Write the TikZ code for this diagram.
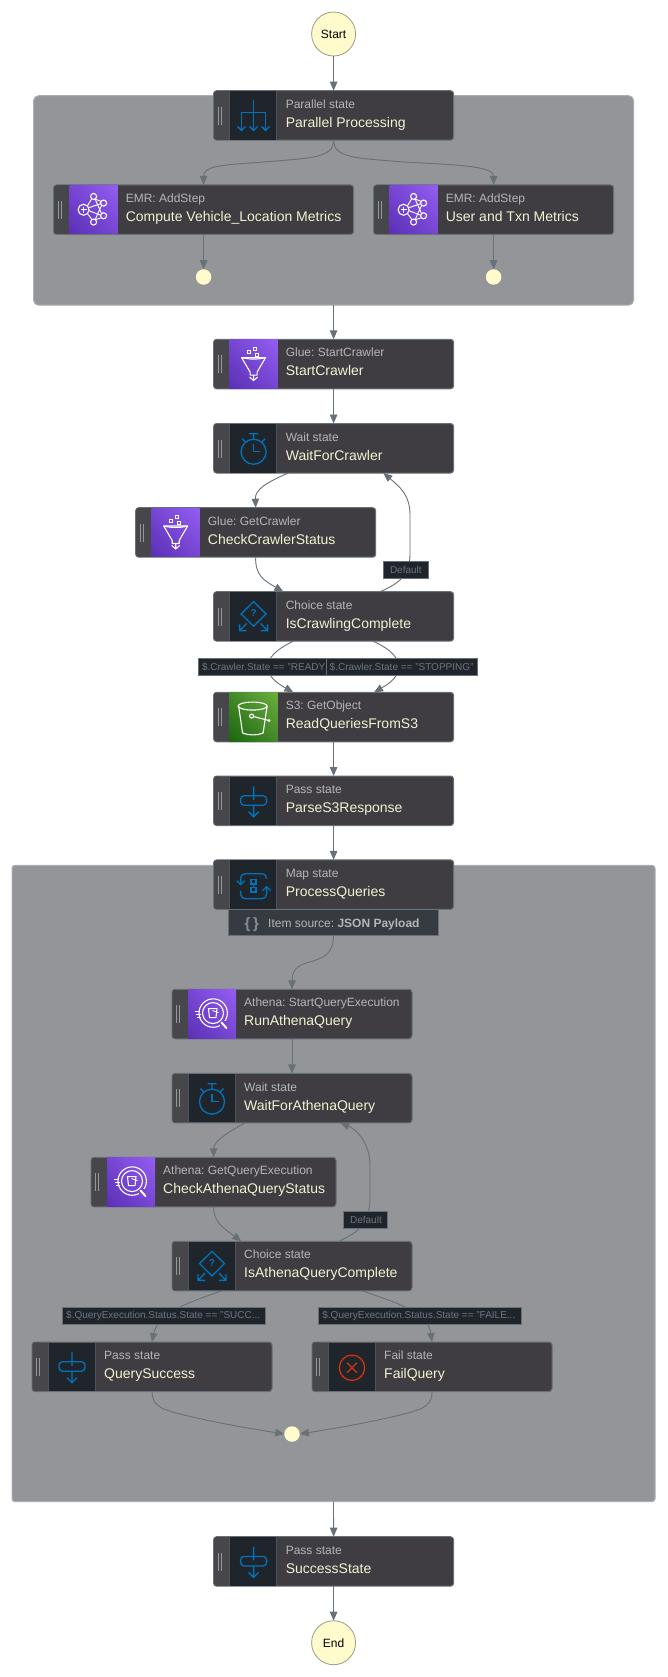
\documentclass[tikz,border=0pt]{standalone}
\usepackage{fontspec}
\setmainfont{Liberation Sans}
\frenchspacing
\usetikzlibrary{arrows.meta,calc,shadings}
\definecolor{edgec}{HTML}{687078}
\definecolor{bodyc}{HTML}{3F3D42}
\definecolor{gripc}{HTML}{47464B}
\definecolor{gripl}{HTML}{96989B}
\definecolor{darkc}{HTML}{20252C}
\definecolor{sepc}{HTML}{4A545C}
\definecolor{blueic}{HTML}{0073BB}
\definecolor{redic}{HTML}{D13212}
\definecolor{groupc}{HTML}{939598}
\definecolor{groupb}{HTML}{ABAFB2}
\definecolor{creamc}{HTML}{F4F2D0}
\definecolor{labc}{HTML}{B5B6B9}
\definecolor{circc}{HTML}{FFFBCD}
\definecolor{circb}{HTML}{9A9C86}
\definecolor{taglab}{HTML}{6E757C}
\definecolor{purl}{HTML}{5A30B5}
\definecolor{purm}{HTML}{7746D3}
\definecolor{purh}{HTML}{945DF2}
\definecolor{grnl}{HTML}{1B660F}
\definecolor{grnm}{HTML}{43892A}
\definecolor{grnh}{HTML}{6CAE3E}
\tikzset{
 stbody/.style={rectangle,draw=edgec,fill=bodyc,line width=1pt,rounded corners=3pt,inner sep=0pt,outer sep=0pt,minimum height=49.5pt,anchor=north west},
 groupbox/.style={rectangle,draw=groupb,fill=groupc,line width=1pt,rounded corners=5pt,inner sep=0pt,outer sep=0pt,anchor=north west},
 conn/.style={draw=edgec,line width=0.9pt,-{Triangle[length=9pt,width=7.5pt]}},
 bigcirc/.style={circle,draw=circb,fill=circc,line width=0.8pt,minimum size=44pt,inner sep=0pt,outer sep=0pt,font=\fontsize{12}{14}\selectfont,text=black},
 smallcirc/.style={circle,fill=circc,minimum size=15.5pt,inner sep=0pt,outer sep=0pt},
 tagbox/.style={rectangle,draw=edgec,fill=darkc,line width=1pt,inner sep=0pt,outer sep=0pt,minimum height=17pt,anchor=north west},
 tagtext/.style={anchor=west,inner sep=0pt,text=taglab,font=\fontsize{10}{12}\selectfont},
 labtext/.style={anchor=base west,inner sep=0pt,text=labc,font=\fontsize{12}{14}\selectfont},
 tittext/.style={anchor=base west,inner sep=0pt,text=creamc,font=\fontsize{14}{16}\selectfont},
 ic/.style={draw=blueic,line width=1.3pt},
 iw/.style={draw=white,line width=1.1pt},
}
% icons, drawn round the centre of the icon panel
\newcommand{\icpar}{\draw[ic] (0,-15)--(0,15) (-12,15)--(-12,-3)--(12,-3)--(12,15);
 \foreach \a in {-12,0,12}{\draw[ic] (\a-4,11)--(\a,15)--(\a+4,11);}}
\newcommand{\icwait}{\draw[ic] (0,3.5) circle (12.5); \draw[ic] (0,-9)--(0,-14) (-4.5,-14.5)--(4.5,-14.5) (-11.5,-9.5)--(-8.5,-6.5) (11.5,-9.5)--(8.5,-6.5);
 \draw[ic] (0,-4.5)--(0,3.5)--(6.5,3.5);}
\newcommand{\icchoice}{\draw[ic,line join=miter] (0,-14.8)--(12.5,-2.5)--(0,9.8)--(-12.5,-2.5)--cycle;
 \node[inner sep=0pt,text=blueic,font=\bfseries\fontsize{10}{10}\selectfont] (q\icid) at (0,-3) {?};
 \draw[ic] (-7,7)--(-14,14.3) (-14,8)--(-14,14.3)--(-7,14.3) (7,7)--(14,14.3) (14,8)--(14,14.3)--(7,14.3);}
\newcommand{\icmap}{\draw[ic,rounded corners=4.5pt] (-13,0)--(-13,-11)--(13,-11)--(13,-6);
 \draw[ic] (-17,-4)--(-13,0)--(-9,-4);
 \draw[ic,rounded corners=4.5pt] (13,2)--(13,14)--(-13,14)--(-13,6);
 \draw[ic] (9,6)--(13,2)--(17,6);
 \draw[ic] (-2.5,-5)rectangle(2.5,-0.7) (-2.5,3)rectangle(2.5,7.3) (0,-0.7)--(0,3);}
\newcommand{\icpass}{\draw[ic,rounded corners=3.5pt] (-13,-5)rectangle(13,4.5);
 \draw[ic] (0,-14.5)--(0,-1) (0,4.5)--(0,16) (-5,11)--(0,16)--(5,11);}
\newcommand{\icfail}{\draw[draw=redic,line width=1.3pt] (0,1) circle (12.7) (-5,-4)--(5,6) (-5,6)--(5,-4);}
\newcommand{\icglue}{\draw[iw,line join=round] (-12,-6.5)--(12,-6.5)--(3.5,8)--(3.5,11)--(-3.5,11)--(-3.5,8)--cycle;
 \draw[iw] (-12,-6.5)..controls(-5,-4.5)and(5,-4.5)..(12,-6.5);
 \draw[iw] (0,11)--(0,16.5) (-4,13)--(0,16.5)--(4,13);
 \draw[iw,line width=0.9pt] (-6,-13.5)rectangle(-3,-10.5) (0.2,-17)rectangle(3.2,-14) (1.5,-11)rectangle(4.5,-8);}
\newcommand{\icemr}{\draw[iw] (-10,0) circle (5.5) (0,-13.3) circle (3) (10,-6.7) circle (3) (10,6) circle (3) (0,12.3) circle (3);
 \draw[iw] (-13,0)--(-7,0) (-10,-3)--(-10,3);
 \draw[iw,line width=0.9pt] (-6,-4)--(-2,-11) (-5,-2)--(7,-6) (-4.5,1)--(7,5.5) (-6,4)--(-1.5,10) (1.5,-10.7)--(8,4) (8,-4.5)--(1.5,10) (1,-11)--(8,-8) (1.5,10)--(8,8);}
\newcommand{\icath}{\draw[iw] (1.2,-1) circle (14.2);
 \fill[fill=purm] (8,7)rectangle(16,16);
 \draw[iw] (1,-1) circle (10.5);
 \draw[iw,line join=round] (-3.5,-5.5)--(5,-5.5)--(4,3.5)--(-2.5,3.5)--cycle;
 \draw[iw,line width=0.9pt] (0.5,-3.5)--(6.5,-1.5);
 \draw[iw,line width=2pt,line cap=round] (9.5,8.5)--(14.5,14);
 \draw[iw,line width=0.9pt] (-17,-3)--(-12.5,-3) (-16,0)--(-11.5,0) (-15,3)--(-11.5,3);}
\newcommand{\icsthree}{\draw[iw] (-1,-11) ellipse (14.5 and 4);
 \draw[iw,line join=round] (-15,-11)--(-11,16)..controls(-5,18.5)and(4,18.5)..(9.5,16)--(13.5,-11);
 \draw[iw] (-2,-1) circle (2);
 \draw[iw] (0,-0.5)--(15.5,3.5) circle (0.8);}
% state box: id, x, y, width, panel kind (d / p / g), icon, label, title
\newcommand{\stbox}[8]{\begin{scope}[shift={(#2,#3)}]
 \node[stbody,minimum width=#4 pt] (#1) at (0,0) {};
 \fill[gripc,rounded corners=2.5pt] (0.5,0.5)--(0.5,49)--(8,49)--(8,0.5)--cycle;
 \fill[gripc] (6,0.5)rectangle(16,49);
 \draw[gripl,line width=0.7pt] (4.7,16)--(4.7,34) (7.7,16)--(7.7,34);
 \def\icid{#1}
 \ifx d#5
  \fill[darkc] (16,0.5)rectangle(63,49);
  \draw[sepc,line width=1pt] (16,0.5)--(16,49) (63,0.5)--(63,49);
 \else\ifx p#5
  \shade[lower left=purl,upper right=purh,lower right=purm,upper left=purm] (16,0.5)rectangle(64,49);
 \else
  \shade[lower left=grnl,upper right=grnh,lower right=grnm,upper left=grnm] (16,0.5)rectangle(64,49);
 \fi\fi
 \begin{scope}[shift={(40,24.75)}]#6\end{scope}
 \node[labtext] (#1-lab) at (72,17.6) {#7};
 \node[tittext] (#1-tit) at (72,36.6) {#8};
 \end{scope}}
% edge label: id, x, y, width, text
\newcommand{\taglabel}[5]{\node[tagbox,minimum width=#4 pt] (#1) at (#2,#3) {};
 \node[tagtext] (#1-txt) at ([xshift=#5]#1.west) {\csname tagtx#1\endcsname};}
\begin{document}
\begin{tikzpicture}[x=1pt,y=-1pt]
\useasboundingbox (0,0) rectangle (667,1677);
\fill[white] (0,0) rectangle (667,1677);
% groups
\node[groupbox,minimum width=600pt,minimum height=209.5pt] (gp1) at (33.6,95.7) {};
\node[groupbox,minimum width=643pt,minimum height=636.4pt,rounded corners=3pt] (gp2) at (12,865.3) {};
% terminals
\node[bigcirc] (start) at (333.6,34) {Start};
\node[bigcirc] (end) at (333.6,1642.7) {End};
% states
\stbox{par}{213.6}{90.7}{240}{d}{\icpar}{Parallel state}{Parallel Processing}
\stbox{emrA}{53.6}{185}{300}{p}{\icemr}{EMR: AddStep}{Compute Vehicle\_Location Metrics}
\stbox{emrB}{373.6}{185}{240}{p}{\icemr}{EMR: AddStep}{User and Txn Metrics}
\node[smallcirc] (dotA) at (203.6,277) {};
\node[smallcirc] (dotB) at (493.6,277) {};
\stbox{sc}{213.6}{339.3}{240}{p}{\icglue}{Glue: StartCrawler}{StartCrawler}
\stbox{wc}{213.6}{423.5}{240}{d}{\icwait}{Wait state}{WaitForCrawler}
\stbox{cc}{135.7}{507.7}{240}{p}{\icglue}{Glue: GetCrawler}{CheckCrawlerStatus}
\stbox{ic}{213.6}{591.7}{240}{d}{\icchoice}{Choice state}{IsCrawlingComplete}
\stbox{rq}{213.6}{692.3}{240}{g}{\icsthree}{S3: GetObject}{ReadQueriesFromS3}
\stbox{ps}{213.6}{776}{240}{d}{\icpass}{Pass state}{ParseS3Response}
\stbox{pq}{213.6}{859.9}{240}{d}{\icmap}{Map state}{ProcessQueries}
\node[tagbox,minimum width=210pt,minimum height=26pt,fill=darkc!90!white] (src) at (228.5,909.7) {};
\node[anchor=base west,inner sep=0pt,text=edgec!80!white,font=\bfseries\fontsize{15}{15}\selectfont] (srcb) at (244.5,928) {\{\,\}};
\node[anchor=base west,inner sep=0pt,text=labc,font=\fontsize{12}{14}\selectfont] (srct) at (268,927) {Item source: \textbf{JSON Payload}};
\stbox{ra}{172}{989.3}{240}{p}{\icath}{Athena: StartQueryExecution}{RunAthenaQuery}
\stbox{wa}{172}{1073.4}{240}{d}{\icwait}{Wait state}{WaitForAthenaQuery}
\stbox{ca}{91}{1157.3}{245}{p}{\icath}{Athena: GetQueryExecution}{CheckAthenaQueryStatus}
\stbox{ia}{172}{1241.3}{240}{d}{\icchoice}{Choice state}{IsAthenaQueryComplete}
\stbox{qs}{32}{1342}{240}{d}{\icpass}{Pass state}{QuerySuccess}
\stbox{fq}{312}{1342}{240}{d}{\icfail}{Fail state}{FailQuery}
\node[smallcirc] (dotC) at (292,1434) {};
\stbox{ss}{213.6}{1536.7}{240}{d}{\icpass}{Pass state}{SuccessState}
% connectors
\draw[conn] (start) -- (par.north);
\draw[conn] (par.south) .. controls (333.6,158) and (310,158) .. (270,161.5) .. controls (225,165) and (203.6,165) .. (emrA.north -| dotA);
\draw[conn] (par.south) .. controls (333.6,158) and (357,158) .. (397,161.5) .. controls (450,165) and (493.6,165) .. (emrB.north -| dotB);
\draw[conn] (emrA.south -| dotA) -- (dotA.north);
\draw[conn] (emrB.south -| dotB) -- (dotB.north);
\draw[conn] (gp1.south) -- (sc.north);
\draw[conn] (sc.south) -- (wc.north);
\draw[conn] ([xshift=-45.3]wc.south) .. controls (265,483) and (255,490) .. (cc.north);
\draw[conn] (cc.south) .. controls (255,576) and (265,581) .. ([xshift=-50.3]ic.north);
\draw[conn] ([xshift=46.4]ic.north) .. controls (400,583) and (409.5,575) .. (410,555) -- (410,515) .. controls (410,495) and (400,487) .. ([xshift=49.7]wc.south);
\draw[conn] ([xshift=-40.3]ic.south) .. controls (275,650) and (268,658) .. (268,667) .. controls (268,676) and (275,682) .. ([xshift=-40.3]rq.north);
\draw[conn] ([xshift=39.7]ic.south) .. controls (392,650) and (398.5,658) .. (398.5,667) .. controls (398.5,676) and (392,682) .. ([xshift=40.4]rq.north);
\draw[conn] (rq.south) -- (ps.north);
\draw[conn] (ps.south) -- (pq.north);
\draw[conn] (src.south) .. controls (333.6,972) and (292,952) .. (ra.north);
\draw[conn] (ra.south) -- (wa.north);
\draw[conn] ([xshift=-47.3]wa.south) .. controls (225,1134) and (213.6,1142) .. ([xshift=0.1]ca.north);
\draw[conn] (ca.south) .. controls (213.6,1223) and (225,1229) .. ([xshift=-50.7]ia.north);
\draw[conn] ([xshift=47]ia.north) .. controls (358,1232) and (369,1225) .. (370,1200) -- (370,1165) .. controls (370,1145) and (358,1130) .. ([xshift=48.4]wa.south);
\draw[conn] ([xshift=-70]ia.south) .. controls (195,1300) and (158,1312) .. (qs.north);
\draw[conn] ([xshift=69.7]ia.south) .. controls (395,1302) and (428,1312) .. (fq.north);
\draw[conn] (qs.south) .. controls (152,1405) and (160,1409) .. (180,1414) .. controls (220,1424) and (260,1430) .. (dotC.west);
\draw[conn] (fq.south) .. controls (432.4,1405) and (424,1409) .. (404,1414) .. controls (364,1424) and (324,1430) .. (dotC.east);
\draw[conn] (gp2.south) -- (ss.north);
\draw[conn] (ss.south) -- (end.north);
% edge labels
\expandafter\def\csname tagtxdfA\endcsname{Default}
\expandafter\def\csname tagtxdfB\endcsname{Default}
\expandafter\def\csname tagtxlbA\endcsname{\$.Crawler.State == "READY}
\expandafter\def\csname tagtxlbB\endcsname{\$.Crawler.State == "STOPPING"}
\expandafter\def\csname tagtxlbC\endcsname{\$.QueryExecution.Status.State == "SUCC...}
\expandafter\def\csname tagtxlbD\endcsname{\$.QueryExecution.Status.State == "FAILE...}
\taglabel{dfA}{383.3}{561.7}{45}{6.5}
\taglabel{dfB}{343.4}{1211.7}{44.5}{6.5}
\taglabel{lbA}{198.3}{658.3}{128.4}{3.5}
\taglabel{lbB}{326}{658.3}{151.3}{3.5}
\taglabel{lbC}{62.5}{1307.7}{203}{3.5}
\taglabel{lbD}{318.7}{1307.7}{203}{3.5}
\end{tikzpicture}
\end{document}
